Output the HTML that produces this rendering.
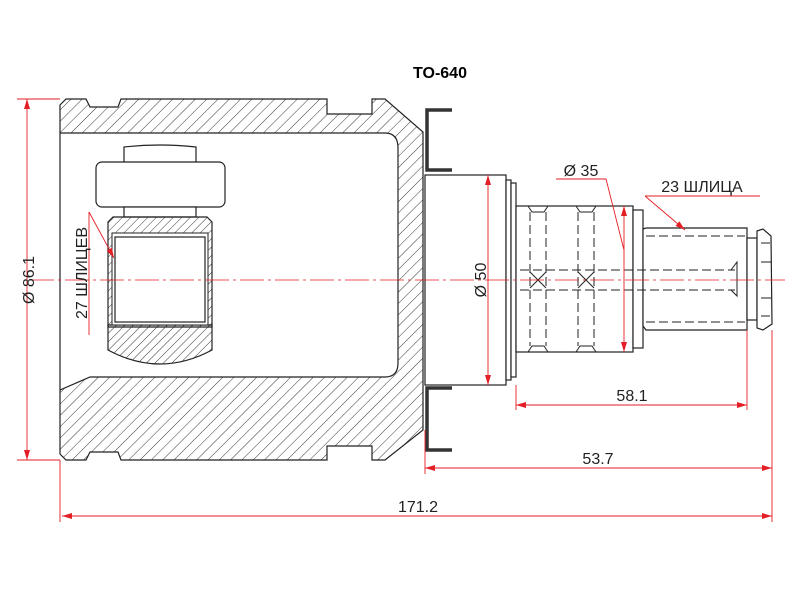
<!DOCTYPE html>
<html><head><meta charset="utf-8"><style>body{margin:0;background:#fff}svg{display:block}</style></head><body>
<svg width="800" height="600" viewBox="0 0 800 600" xmlns="http://www.w3.org/2000/svg" font-family="Liberation Sans, sans-serif">
<defs>
<pattern id="h" patternUnits="userSpaceOnUse" width="8" height="8" patternTransform="rotate(45)"><line x1="0" y1="0" x2="0" y2="8" stroke="#222" stroke-width="0.9"/></pattern>
<pattern id="h2" patternUnits="userSpaceOnUse" width="6" height="6" patternTransform="rotate(45)"><line x1="0" y1="0" x2="0" y2="6" stroke="#222" stroke-width="0.9"/></pattern>
<marker id="a" markerWidth="10" markerHeight="6" refX="10" refY="3" orient="auto-start-reverse" markerUnits="userSpaceOnUse"><path d="M0,0 L10,3 L0,6z" fill="#e31e24"/></marker>
</defs>
<text x="440" y="78" font-size="16" font-weight="bold" text-anchor="middle">TO-640</text>
<path fill="url(#h)" fill-rule="evenodd" stroke="#222" stroke-width="1.2" d="M60,105 L66,99 L86,99 L90,107 L118,107 L121,99 L327,99 L327,114 L372,114 L372,99 L385,99 L423,132 L423,430 L385,460 L372,460 L372,446 L327,446 L327,460 L121,460 L118,452 L90,452 L86,460 L66,460 L60,454 Z M60,133 L385,133 Q398,133 398,148 L398,363 Q398,377 385,377 L90,377 L60,390 Z"/>
<path d="M124,162 L124,147 Q160,143 196,147 L196,162" fill="#fff" stroke="#222" stroke-width="1.2"/>
<rect x="96" y="162" width="129" height="45" rx="6" fill="#fff" stroke="#222" stroke-width="1.2"/>
<rect x="124" y="207" width="72" height="10" fill="#fff" stroke="#222" stroke-width="1.2"/>
<path d="M108,222 L113,217 L207,217 L212,222 L212,327 L108,327 Z" fill="url(#h2)" stroke="#222" stroke-width="1.2"/>
<path d="M108,325 L212,325 L212,350 Q160,378 108,350 Z" fill="url(#h2)" stroke="#222" stroke-width="1.2"/>
<rect x="112" y="233" width="96" height="92" fill="#fff" stroke="#222" stroke-width="1"/>
<rect x="115" y="237" width="90" height="85" fill="#fff" stroke="#222" stroke-width="1.2"/>
<path d="M452,110 L427,110 L427,170 L452,170" fill="none" stroke="#333" stroke-width="3.5"/>
<path d="M452,388 L427,388 L427,450 L452,450" fill="none" stroke="#333" stroke-width="3.5"/>
<g fill="#fff" stroke="#222" stroke-width="1.2">
<rect x="425" y="175" width="81" height="210"/>
<rect x="506" y="180" width="5" height="200"/>
<rect x="511" y="183" width="5" height="194"/>
<rect x="516" y="206" width="117" height="146"/>
<rect x="633" y="210" width="10" height="138"/>
<path d="M643,229 L646,228 L747,228 L747,330 L646,330 L643,326 Z"/>
<rect x="747" y="238" width="10" height="82"/>
<path d="M757,231 L763,229 L771,236 L772,324 L763,330 L757,328 Z"/>
</g>
<g fill="none" stroke="#222" stroke-width="1" stroke-dasharray="9,4">
<path d="M530,212 V346 M546,212 V346 M578,212 V346 M594,212 V346"/>
<path d="M520,270 H735 M520,290 H735 M646,236 H745 M646,322 H745"/>
</g>
<path d="M528,206 L532,212 L544,212 L548,206 M576,206 L580,212 L592,212 L596,206 M528,352 L532,346 L544,346 L548,352 M576,352 L580,346 L592,346 L596,352 M530,272 L546,288 M546,272 L530,288 M578,272 L594,288 M594,272 L578,288 M731,270 L737,262 V296 L731,290" fill="none" stroke="#222" stroke-width="1"/>
<path d="M761,243 H770 M761,262 H771 M761,298 H771 M761,316 H770" stroke="#222"/>
<line x1="30" y1="280" x2="785" y2="280" stroke="#e31e24" stroke-width="0.8" stroke-dasharray="24,4,3,4"/>
<g stroke="#e31e24" stroke-width="0.9" fill="none">
<path d="M17,99 H60 M17,460 H60 M60,460 V522 M425,430 V474 M772,330 V522 M747,330 V410 M516,385 V410"/>
<line x1="27" y1="99" x2="27" y2="460" marker-start="url(#a)" marker-end="url(#a)"/>
<line x1="488" y1="175" x2="488" y2="385" marker-start="url(#a)" marker-end="url(#a)"/>
<line x1="624" y1="206" x2="624" y2="352" marker-start="url(#a)" marker-end="url(#a)"/>
<line x1="516" y1="405" x2="747" y2="405" marker-start="url(#a)" marker-end="url(#a)"/>
<line x1="425" y1="468" x2="772" y2="468" marker-start="url(#a)" marker-end="url(#a)"/>
<line x1="62" y1="516" x2="772" y2="516" marker-start="url(#a)" marker-end="url(#a)"/>
<path d="M556,179 H606 L624,250"/>
<line x1="645" y1="196" x2="760" y2="196"/>
<line x1="645" y1="196" x2="685" y2="230" marker-end="url(#a)"/>
<line x1="89" y1="212" x2="89" y2="335"/>
<line x1="89" y1="212" x2="114" y2="258" marker-end="url(#a)"/>
</g>
<g font-size="16" fill="#222">
<text transform="translate(34,280) rotate(-90)" text-anchor="middle">Ø 86.1</text>
<text transform="translate(87,273) rotate(-90)" text-anchor="middle">27 ШЛИЦЕВ</text>
<text transform="translate(486,280) rotate(-90)" text-anchor="middle">Ø 50</text>
<text x="581" y="176" text-anchor="middle">Ø 35</text>
<text x="702" y="192" text-anchor="middle">23 ШЛИЦА</text>
<text x="632" y="401" text-anchor="middle">58.1</text>
<text x="598" y="464" text-anchor="middle">53.7</text>
<text x="418" y="512" text-anchor="middle">171.2</text>
</g>
</svg>
</body></html>
